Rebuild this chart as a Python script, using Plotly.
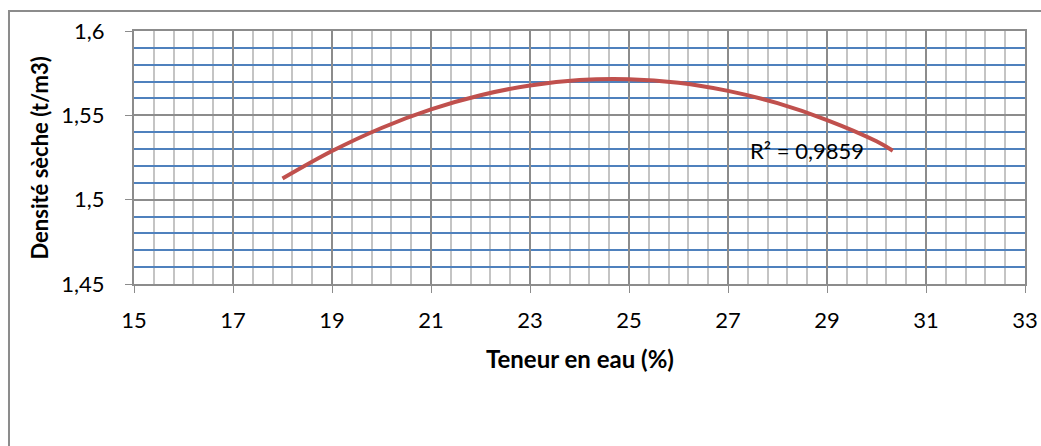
import plotly.graph_objects as go

# ---------------- Data ----------------
teneur_eau = [18.0, 19.0, 20.0, 21.0, 22.0, 23.0, 24.0, 25.0, 26.0, 27.0, 28.0, 29.0, 30.0, 30.33]
densite_seche = [1.5125, 1.5288, 1.5425, 1.5535, 1.5619, 1.5677, 1.5709, 1.5714,
                 1.5693, 1.5645, 1.5572, 1.5472, 1.5346, 1.5290]
r2_label = "R² = 0,9859"
x_title = "Teneur en eau (%)"
y_title = "Densité sèche (t/m3)"

FONT = "Lato"

fig = go.Figure()

fig.add_trace(go.Scatter(
    x=teneur_eau,
    y=densite_seche,
    mode="lines",
    line=dict(color="#c0504d", width=4, shape="spline"),
    showlegend=False,
    hoverinfo="skip"
))

fig.add_annotation(
    x=27.4, y=1.529, xref="x", yref="y",
    text=r2_label, showarrow=False, xanchor="left", yanchor="middle",
    font=dict(family=FONT, size=22, color="#000000")
)

# axis titles placed as in the original Excel chart
fig.add_annotation(
    x=0.5, y=-0.294, xref="paper", yref="paper",
    text="<b>" + x_title + "</b>", showarrow=False,
    xanchor="center", yanchor="middle",
    font=dict(family=FONT, size=24, color="#000000")
)
fig.add_annotation(
    x=-0.1055, y=0.5, xref="paper", yref="paper",
    text="<b>" + y_title + "</b>", showarrow=False, textangle=-90,
    xanchor="center", yanchor="middle",
    font=dict(family=FONT, size=22, color="#000000")
)

# chart area frame (Excel style)
fig.add_shape(
    type="rect", xref="paper", yref="paper",
    x0=-0.1403, x1=1.05, y0=-0.9, y1=1.079,
    line=dict(color="#8c8c8c", width=2), layer="below"
)

fig.update_xaxes(
    range=[15, 33],
    dtick=2,
    tick0=15,
    showgrid=True,
    gridcolor="#8c8c8c",
    gridwidth=2,
    minor=dict(dtick=0.4, tick0=15, showgrid=True, gridcolor="#c4c4c4", gridwidth=2),
    showline=True,
    linecolor="#8c8c8c",
    linewidth=2,
    mirror=True,
    ticks="outside",
    ticklen=7,
    tickcolor="#8c8c8c",
    tickwidth=1,
    ticklabelstandoff=9,
    zeroline=False,
    automargin=False,
    tickfont=dict(family=FONT, size=22, color="#000000")
)

fig.update_yaxes(
    range=[1.45, 1.6],
    dtick=0.05,
    tick0=1.45,
    showgrid=True,
    gridcolor="#8c8c8c",
    gridwidth=2,
    minor=dict(dtick=0.01, tick0=1.45, showgrid=True, gridcolor="#4f81bd", gridwidth=2),
    showline=True,
    linecolor="#8c8c8c",
    linewidth=2,
    mirror=True,
    ticks="outside",
    ticklen=7,
    tickcolor="#8c8c8c",
    tickwidth=1,
    ticklabelstandoff=16,
    zeroline=False,
    automargin=False,
    tickfont=dict(family=FONT, size=22, color="#000000")
)

fig.update_layout(
    width=1041,
    height=446,
    margin=dict(l=134, r=16, t=31, b=162),
    plot_bgcolor="#ffffff",
    paper_bgcolor="#ffffff",
    separators=", ",
    showlegend=False
)

# drop the default 8px page margin so the figure fills the window exactly
fig.write_html(
    "out.html",
    config={"displayModeBar": False},
    post_script="document.body.style.margin='0';document.body.style.overflow='hidden';"
)
